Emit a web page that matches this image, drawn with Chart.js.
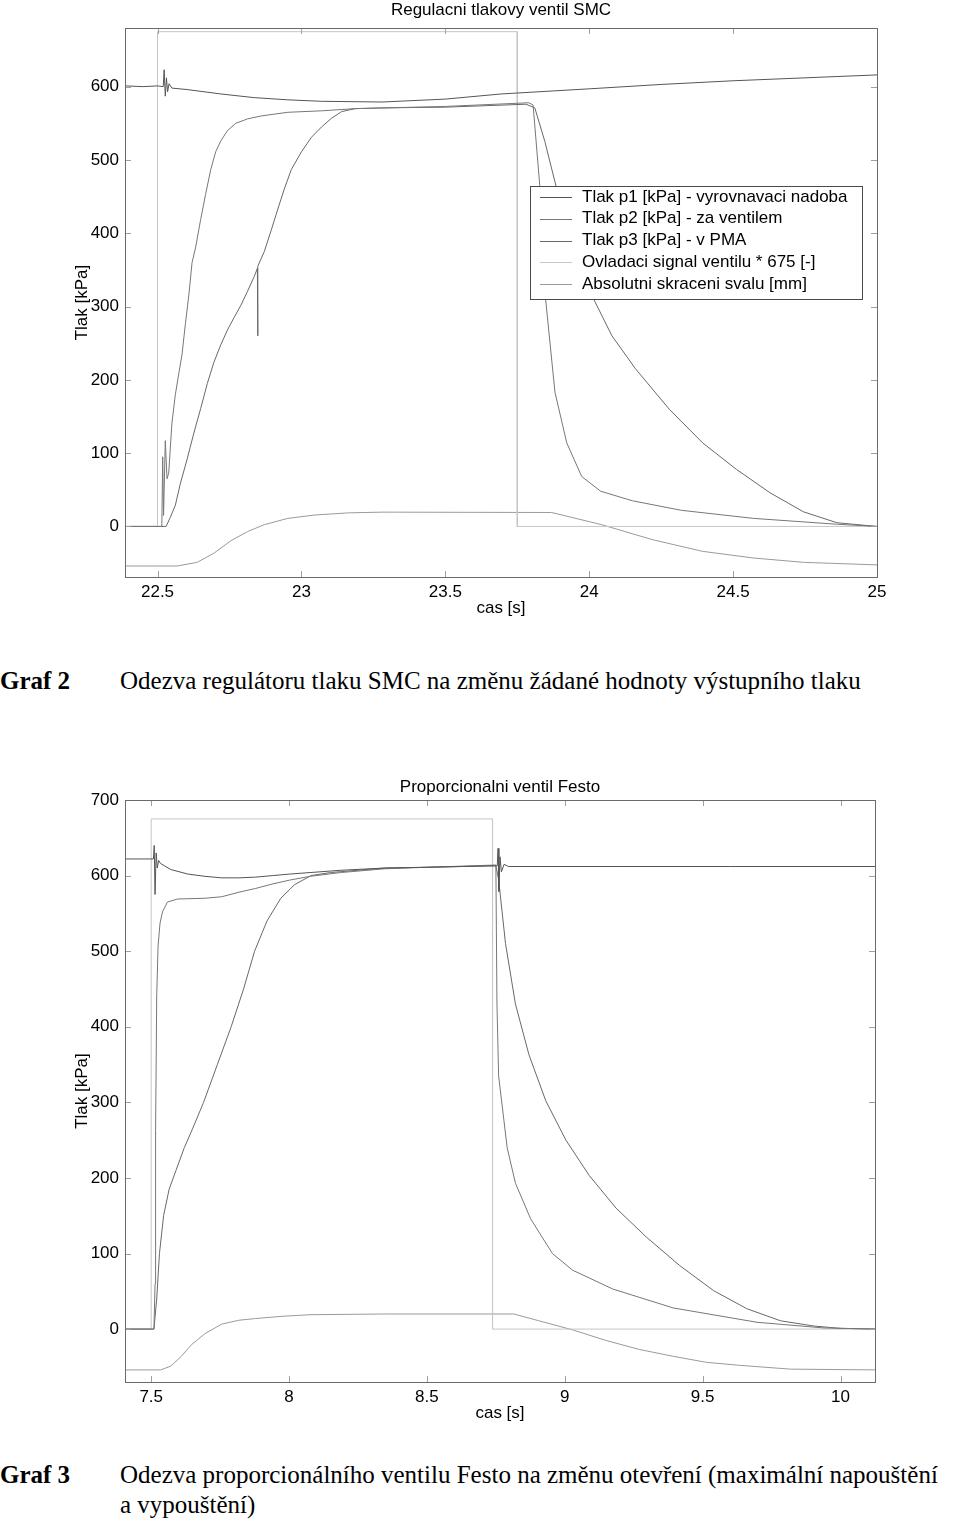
<!DOCTYPE html>
<html>
<head>
<meta charset="utf-8">
<script src="https://cdn.jsdelivr.net/npm/chart.js@4/dist/chart.umd.min.js"></script>
<style>
  body { margin: 0; background: #fff; }
  #page { position: relative; width: 960px; height: 1522px; overflow: hidden; }
  .plot { position: absolute; left: 0; width: 960px; }
  .cap { position: absolute; left: 0; width: 960px; font-family: "Liberation Serif", "Times New Roman", serif;
         font-size: 25px; line-height: 30px; color: #000; white-space: nowrap; }
  .cap b { position: absolute; left: 0; top: 0; }
  .cap span { position: absolute; left: 120px; top: 0; }
</style>
</head>
<body>
<div id="page">
  <div class="plot" style="top:0;height:630px"><canvas id="smc"></canvas></div>
  <div class="cap" style="top:666px"><b>Graf 2</b><span>Odezva regulátoru tlaku SMC na změnu žádané hodnoty výstupního tlaku</span></div>
  <div class="plot" style="top:760px;height:680px"><canvas id="festo"></canvas></div>
  <div class="cap" style="top:1460px"><b>Graf 3</b><span>Odezva proporcionálního ventilu Festo na změnu otevření (maximální napouštění<br>a vypouštění)</span></div>
</div>
<script>
// legend texts, same for both plots
const seriesLabels = [
  "Tlak p1 [kPa] - vyrovnavaci nadoba",
  "Tlak p2 [kPa] - za ventilem",
  "Tlak p3 [kPa] - v PMA",
  "Ovladaci signal ventilu * 675 [-]",
  "Absolutni skraceni svalu [mm]",
];
const seriesColors = ["#555555", "#777777", "#686868", "#c6c6c6", "#9a9a9a"];

// --- Graf 2: SMC regulator, [time s, value] ---
const smcXTicks = [22.5, 23, 23.5, 24, 24.5, 25];
const smcYTicks = [0, 100, 200, 300, 400, 500, 600];

const smcP1 = [[22.387, 601], [22.45, 600], [22.5, 601], [22.52, 600], [22.523, 623], [22.527, 587], [22.531, 612],
  [22.535, 593], [22.54, 604], [22.55, 598], [22.603, 596], [22.72, 590], [22.836, 585], [22.953, 582], [23.07, 580],
  [23.28, 579], [23.5, 583], [23.694, 590], [24.0, 597], [24.25, 603], [24.5, 608], [24.75, 612], [25.0, 616]];

const smcP2 = [[22.387, 0], [22.515, 0], [22.518, 95], [22.521, 15], [22.527, 117], [22.533, 65], [22.539, 73],
  [22.55, 141], [22.562, 180], [22.574, 209], [22.585, 234], [22.597, 277], [22.609, 316], [22.62, 360], [22.632, 380],
  [22.65, 419], [22.667, 453], [22.685, 487], [22.702, 511], [22.72, 526], [22.743, 540], [22.772, 550], [22.813, 556],
  [22.86, 560], [22.953, 565], [23.07, 567], [23.187, 570], [23.5, 573], [23.79, 578], [23.805, 575], [23.828, 466],
  [23.846, 320], [23.881, 183], [23.922, 114], [23.974, 68], [24.04, 48], [24.15, 35], [24.32, 22], [24.57, 11],
  [24.86, 3], [25.0, 0]];

const smcP3 = [[22.387, 0], [22.53, 0], [22.544, 12], [22.562, 29], [22.579, 58], [22.603, 92], [22.626, 127],
  [22.65, 161], [22.673, 195], [22.696, 224], [22.72, 248], [22.743, 268], [22.766, 285], [22.79, 302], [22.813, 321],
  [22.836, 341], [22.847, 352], [22.848, 260], [22.849, 355], [22.871, 375], [22.895, 404], [22.918, 433],
  [22.942, 462], [22.965, 487], [23.0, 511], [23.035, 531], [23.07, 545], [23.105, 557], [23.14, 566], [23.187, 570],
  [23.28, 571], [23.5, 572], [23.78, 576], [23.811, 571], [23.846, 525], [23.881, 470], [23.928, 402], [23.998, 324],
  [24.079, 260], [24.161, 215], [24.278, 160], [24.394, 114], [24.511, 78], [24.628, 46], [24.744, 20], [24.861, 5],
  [25.0, 0]];

const smcSignal = [[22.387, 0], [22.5, 0], [22.5, 675], [23.75, 675], [23.75, 0], [25.0, 0]];

const smcShort = [[22.387, -54], [22.568, -54], [22.638, -49], [22.696, -36.5], [22.755, -19.5], [22.813, -7],
  [22.871, 2.4], [22.953, 11], [23.047, 15.6], [23.164, 18.5], [23.28, 19.5], [23.869, 19], [24.044, 2.3],
  [24.219, -18], [24.394, -34], [24.569, -43], [24.744, -49], [25.0, -52.5]];

// --- Graf 3: Festo proportional valve ---
const festoXTicks = [7.5, 8, 8.5, 9, 9.5, 10];
const festoYTicks = [0, 100, 200, 300, 400, 500, 600, 700];

const festoP1 = [[7.405, 622], [7.508, 622], [7.511, 640], [7.514, 575], [7.518, 630], [7.522, 610], [7.527, 620],
  [7.534, 616], [7.571, 608], [7.633, 602], [7.695, 599], [7.756, 597], [7.818, 597], [7.879, 598], [7.941, 600],
  [8.002, 602], [8.076, 604], [8.187, 607], [8.347, 610], [8.5, 611], [8.755, 613], [8.758, 636], [8.761, 579],
  [8.765, 625], [8.77, 605], [8.78, 615], [8.795, 612], [9.2, 612], [9.6, 612], [10.13, 612]];

const festoP2 = [[7.405, 0], [7.51, 0], [7.514, 60], [7.516, 263], [7.52, 441], [7.525, 507], [7.532, 537],
  [7.541, 552], [7.559, 565], [7.596, 569], [7.695, 570], [7.756, 572], [7.818, 578], [7.879, 583], [7.941, 589],
  [8.002, 594], [8.076, 599], [8.187, 604], [8.347, 609], [8.5, 611], [8.75, 614], [8.754, 430], [8.76, 335],
  [8.791, 240], [8.821, 193], [8.876, 146], [8.955, 100], [9.028, 78], [9.174, 53], [9.393, 28], [9.697, 9],
  [9.94, 1.5], [10.13, 0]];

const festoP3 = [[7.405, 0], [7.51, 0], [7.52, 40], [7.53, 100], [7.545, 150], [7.565, 185], [7.59, 210],
  [7.62, 240], [7.65, 265], [7.69, 300], [7.74, 350], [7.79, 400], [7.835, 450], [7.875, 500], [7.92, 540],
  [7.97, 570], [8.02, 588], [8.08, 600], [8.15, 604], [8.347, 610], [8.5, 611], [8.75, 613], [8.76, 595],
  [8.785, 510], [8.821, 430], [8.87, 363], [8.931, 302], [9.004, 250], [9.089, 203], [9.186, 160], [9.295, 122],
  [9.417, 84], [9.539, 51], [9.66, 27], [9.782, 11], [9.904, 4], [10.0, 1], [10.13, 0]];

const festoSignal = [[7.405, 0], [7.5, 0], [7.5, 675], [8.738, 675], [8.738, 0], [10.13, 0]];

const festoShort = [[7.405, -54], [7.534, -54], [7.571, -49], [7.608, -36.5], [7.645, -21], [7.695, -6],
  [7.756, 6.6], [7.818, 11.7], [7.879, 14], [7.978, 17], [8.076, 19], [8.347, 20], [8.815, 20], [8.906, 11],
  [9.028, -1], [9.149, -15], [9.271, -27], [9.393, -36], [9.514, -44], [9.636, -48], [9.819, -53], [10.13, -54]];

Chart.defaults.font.family = '"Liberation Sans", Arial, sans-serif';
Chart.defaults.font.size = 17;
Chart.defaults.color = "#000";

// matlab style frame with inward ticks on all four sides
const frameTicks = {
  id: "frameTicks",
  afterDatasetsDraw(chart) {
    const { ctx, chartArea: a, scales: { x, y } } = chart;
    const len = 6;
    ctx.save();
    ctx.lineWidth = 1;
    ctx.strokeStyle = "#a0a0a0";
    ctx.beginPath();
    x.ticks.forEach((t) => {
      const px = Math.round(x.getPixelForValue(t.value)) + 0.5;
      ctx.moveTo(px, a.bottom); ctx.lineTo(px, a.bottom - len);
      ctx.moveTo(px, a.top); ctx.lineTo(px, a.top + len);
    });
    y.ticks.forEach((t) => {
      const py = Math.round(y.getPixelForValue(t.value)) + 0.5;
      ctx.moveTo(a.left, py); ctx.lineTo(a.left + len, py);
      ctx.moveTo(a.right, py); ctx.lineTo(a.right - len, py);
    });
    ctx.stroke();
    ctx.strokeStyle = "#6a6a6a";
    ctx.strokeRect(Math.round(a.left) + 0.5, Math.round(a.top) + 0.5,
      Math.round(a.right - a.left), Math.round(a.bottom - a.top));
    ctx.restore();
  },
};

// boxed legend sitting inside the plot
const boxLegend = {
  id: "boxLegend",
  afterDraw(chart, args, o) {
    const { ctx } = chart;
    ctx.save();
    ctx.fillStyle = "#fff";
    ctx.fillRect(o.left, o.top, o.width, o.height);
    ctx.strokeStyle = "#4a4a4a";
    ctx.lineWidth = 1;
    ctx.strokeRect(o.left + 0.5, o.top + 0.5, o.width, o.height);
    ctx.font = '17px "Liberation Sans", Arial, sans-serif';
    ctx.textBaseline = "middle";
    chart.data.datasets.forEach((ds, i) => {
      const cy = o.top + o.first + i * o.step;
      ctx.strokeStyle = ds.borderColor;
      ctx.beginPath();
      ctx.moveTo(o.left + o.lineX0, Math.round(cy) + 0.5);
      ctx.lineTo(o.left + o.lineX1, Math.round(cy) + 0.5);
      ctx.stroke();
      ctx.fillStyle = "#000";
      ctx.fillText(ds.label, o.left + o.textX, cy);
    });
    ctx.restore();
  },
};

function toXY(pairs) {
  return pairs.map(([x, y]) => ({ x, y }));
}

function makeChart(id, s) {
  const series = [s.p1, s.p2, s.p3, s.signal, s.short];
  return new Chart(document.getElementById(id), {
    type: "line",
    data: {
      datasets: series.map((d, i) => ({
        label: seriesLabels[i],
        data: toXY(d),
        borderColor: seriesColors[i],
        borderWidth: 1,
        pointRadius: 0,
        tension: 0,
        fill: false,
      })),
    },
    plugins: [frameTicks, boxLegend],
    options: {
      responsive: true,
      maintainAspectRatio: false,
      animation: false,
      layout: { padding: { left: 0, right: s.padRight, top: 0, bottom: 0 } },
      plugins: {
        legend: { display: false },
        tooltip: { enabled: false },
        title: {
          display: true,
          text: s.title,
          fullSize: false,
          font: { size: 17, weight: "normal" },
          padding: s.titlePad,
        },
        boxLegend: s.legend,
      },
      scales: {
        x: {
          type: "linear",
          min: s.xMin,
          max: s.xMax,
          afterBuildTicks: (sc) => { sc.ticks = s.xTicks.map((v) => ({ value: v })); },
          afterFit: (sc) => { sc.height = s.xHeight; },
          grid: { display: false, drawTicks: false },
          border: { display: false },
          ticks: { padding: 5, maxRotation: 0, callback: (v) => String(v) },
          title: { display: true, text: "cas [s]", padding: { top: 0, bottom: s.xTitlePad } },
        },
        y: {
          type: "linear",
          min: s.yMin,
          max: s.yMax,
          afterBuildTicks: (sc) => { sc.ticks = s.yTicks.map((v) => ({ value: v })); },
          afterFit: (sc) => { sc.width = 125; },
          grid: { display: false, drawTicks: false },
          border: { display: false },
          ticks: { padding: 6, callback: (v) => String(v) },
          title: { display: true, text: "Tlak [kPa]", padding: { top: 71.8, bottom: 0 } },
        },
      },
    },
  });
}

makeChart("smc", {
  title: "Regulacni tlakovy ventil SMC",
  p1: smcP1, p2: smcP2, p3: smcP3, signal: smcSignal, short: smcShort,
  xMin: 22.387, xMax: 25.0, yMin: -69, yMax: 680,
  xTicks: smcXTicks, yTicks: smcYTicks,
  padRight: 83, xHeight: 53, xTitlePad: 11.8,
  titlePad: { top: 0, bottom: 7.6 },
  legend: { left: 530, top: 186, width: 332, height: 113, first: 11, step: 21.8, lineX0: 10, lineX1: 42, textX: 52 },
});

makeChart("festo", {
  title: "Proporcionalni ventil Festo",
  p1: festoP1, p2: festoP2, p3: festoP3, signal: festoSignal, short: festoShort,
  xMin: 7.405, xMax: 10.125, yMin: -70, yMax: 700,
  xTicks: festoXTicks, yTicks: festoYTicks,
  padRight: 85, xHeight: 58, xTitlePad: 16.8,
  titlePad: { top: 16.8, bottom: 2.8 },
  legend: { left: 520, top: 883, width: 345, height: 119, first: 14, step: 22.3, lineX0: 11, lineX1: 43, textX: 54 },
});
</script>
</body>
</html>
